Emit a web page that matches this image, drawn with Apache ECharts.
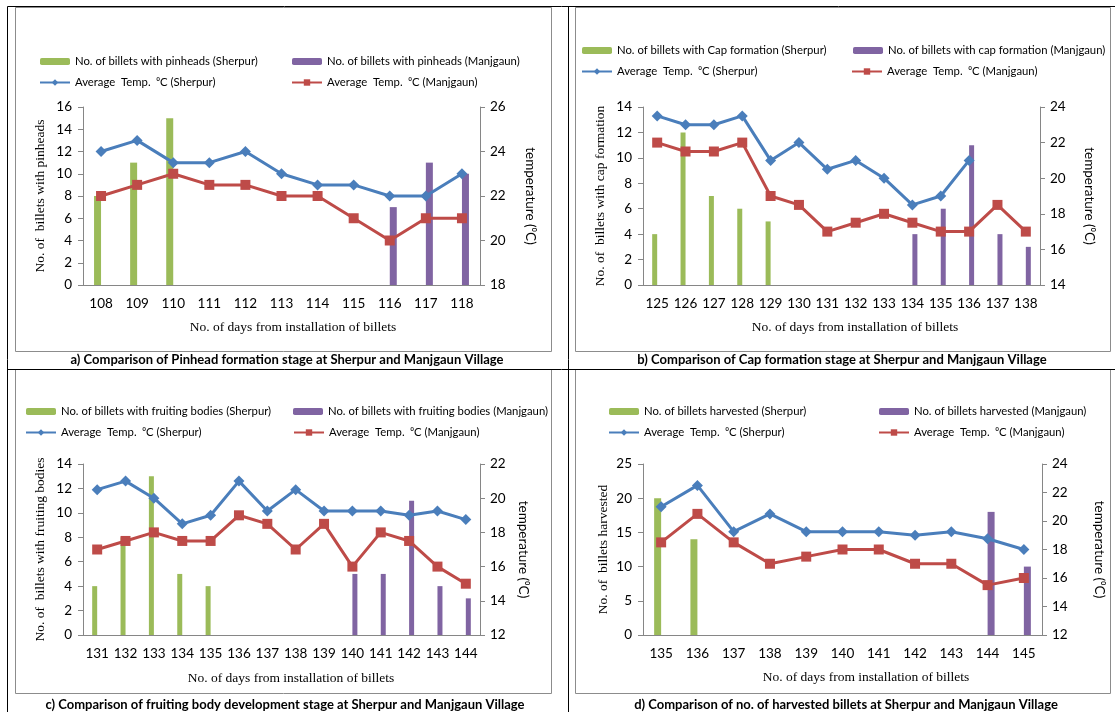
<!DOCTYPE html>
<html><head><meta charset="utf-8">
<script src="https://cdn.jsdelivr.net/npm/echarts@6/dist/echarts.min.js"></script>
<style>html,body{margin:0;padding:0;background:#fff}#c{width:1115px;height:712px}</style>
</head><body><div id="c"></div>
<script>
// ---- Panel a ----
const catsA = ['108','109','110','111','112','113','114','115','116','117','118'];
const barsSherA = [8,11,15,null,null,null,null,null,null,null,null];
const barsManjA = [null,null,null,null,null,null,null,null,7,11,10];
const tempSherA = [24,24.5,23.5,23.5,24,23,22.5,22.5,22,22,23];
const tempManjA = [22,22.5,23,22.5,22.5,22,22,21,20,21,21];
// ---- Panel b ----
const catsB = ['125','126','127','128','129','130','131','132','133','134','135','136','137','138'];
const barsSherB = [4,12,7,6,5,null,null,null,null,null,null,null,null,null];
const barsManjB = [null,null,null,null,null,null,null,null,null,4,6,11,4,3];
const tempSherB = [23.5,23,23,23.5,21,22,20.5,21,20,18.5,19,21,null,null];
const tempManjB = [22,21.5,21.5,22,19,18.5,17,17.5,18,17.5,17,17,18.5,17];
// ---- Panel c ----
const catsC = ['131','132','133','134','135','136','137','138','139','140','141','142','143','144'];
const barsSherC = [4,8,13,5,4,null,null,null,null,null,null,null,null,null];
const barsManjC = [null,null,null,null,null,null,null,null,null,5,5,11,4,3];
const tempSherC = [20.5,21,20,18.5,19,21,19.25,20.5,19.25,19.25,19.25,19,19.25,18.75];
const tempManjC = [17,17.5,18,17.5,17.5,19,18.5,17,18.5,16,18,17.5,16,15];
// ---- Panel d ----
const catsD = ['135','136','137','138','139','140','141','142','143','144','145'];
const barsSherD = [20,14,null,null,null,null,null,null,null,null,null];
const barsManjD = [null,null,null,null,null,null,null,null,null,18,10];
const tempSherD = [21,22.5,19.25,20.5,19.25,19.25,19.25,19,19.25,18.75,18];
const tempManjD = [18.5,20.5,18.5,17,17.5,18,18,17,17,15.5,16];

const barLabelsSher = ['No. of billets with pinheads (Sherpur)','No. of billets with Cap formation (Sherpur)','No. of billets with fruiting bodies (Sherpur)','No. of billets harvested (Sherpur)'];
const barLabelsManj = ['No. of billets with pinheads (Manjgaun)','No. of billets with cap formation (Manjgaun)','No. of billets with fruiting bodies (Manjgaun)','No. of billets harvested (Manjgaun)'];
const tempLabelSher = 'Average  Temp.  \u2070C (Sherpur)';
const tempLabelManj = 'Average  Temp.  \u2070C (Manjgaun)';
const leftNames = ['No. of  billets with pinheads','No. of  billets with cap formation','No. of  billets with fruiting bodies','No. of  billets harvested'];
const rightName = 'temperature (\u2070C)';
const xName = 'No. of days from installation of billets';
const titles = ['a) Comparison of Pinhead formation stage at Sherpur and Manjgaun Village',
 'b) Comparison of Cap formation stage at Sherpur and Manjgaun Village',
 'c) Comparison of fruiting body development stage at Sherpur and Manjgaun Village',
 'd) Comparison of no. of harvested billets at Sherpur and Manjgaun Village'];
const leftAxes = [[0,16,2],[0,14,2],[0,14,2],[0,25,5]];
const rightAxes = [[18,26,2],[14,24,2],[12,22,2],[12,24,2]];

const panels = [
 {cats:catsA, bs:barsSherA, bm:barsManjA, ts:tempSherA, tm:tempManjA},
 {cats:catsB, bs:barsSherB, bm:barsManjB, ts:tempSherB, tm:tempManjB},
 {cats:catsC, bs:barsSherC, bm:barsManjC, ts:tempSherC, tm:tempManjC},
 {cats:catsD, bs:barsSherD, bm:barsManjD, ts:tempSherD, tm:tempManjD}
];

// layout (pixels)
const L = [
 {grid:{left:83,top:107,width:397,height:178}, barW:7, lgRows:[61.5,82.5], lgX:[40,292,39,291], lName:36, rName:43, xGap:35, xPad:23, title:[287,360]},
 {grid:{left:643,top:107,width:397,height:178}, barW:5, lgRows:[50.5,71.5], lgX:[582,853,581,851], lName:36, rName:42, xGap:35, xPad:27, title:[842,360]},
 {grid:{left:83,top:464,width:397,height:171}, barW:5, lgRows:[411.5,432.5], lgX:[26,293,25,293], lName:36, rName:36, xGap:36, xPad:19, title:[285,705]},
 {grid:{left:643,top:464,width:399,height:171}, barW:7, lgRows:[411.5,432.5], lgX:[609,879,608,878], lName:33, rName:50, xGap:35, xPad:47, title:[846,705]}
];

const SANS = 'Lato, "Open Sans", sans-serif';
const SERIF = '"Liberation Serif", "DejaVu Serif", serif';
const GREEN = '#9bbb59', PURPLE = '#8064a2', BLUE = '#4a7ebb', RED = '#be4b48', AX = '#868686';

const disp = {};
const grids = [], xAxes = [], yAxes = [], series = [], legends = [], graphics = [];
panels.forEach((p, i) => {
  const lay = L[i];
  grids.push(lay.grid);
  xAxes.push({type:'category', gridIndex:i, data:p.cats, boundaryGap:true,
    axisLine:{lineStyle:{color:AX}}, axisTick:{show:false},
    axisLabel:{color:'#000', fontFamily:SANS, fontSize:13.5, margin:12, interval:0},
    name:xName, nameLocation:'middle', nameGap:lay.xGap,
    nameTextStyle:{fontFamily:SERIF, fontSize:13.5, color:'#000', padding:[0,0,0,lay.xPad]}});
  const la = leftAxes[i], ra = rightAxes[i];
  yAxes.push({type:'value', gridIndex:i, position:'left', min:la[0], max:la[1], interval:la[2],
    splitLine:{show:false}, axisLine:{show:true, lineStyle:{color:AX}}, axisTick:{show:true, length:5, lineStyle:{color:AX}},
    axisLabel:{color:'#000', fontFamily:SANS, fontSize:13.5, margin:11},
    name:leftNames[i], nameLocation:'middle', nameGap:lay.lName,
    nameTextStyle:{fontFamily:SERIF, fontSize:13.5, color:'#000'}});
  yAxes.push({type:'value', gridIndex:i, position:'right', min:ra[0], max:ra[1], interval:ra[2],
    splitLine:{show:false}, axisLine:{show:true, lineStyle:{color:AX}}, axisTick:{show:true, length:5, lineStyle:{color:AX}},
    axisLabel:{color:'#000', fontFamily:SANS, fontSize:13.5, margin:10},
    name:rightName, nameLocation:'middle', nameGap:lay.rName, nameRotate:-90,
    nameTextStyle:{fontFamily:SANS, fontSize:13.5, color:'#000'}});
  const ids = ['bs'+i,'bm'+i,'ts'+i,'tm'+i];
  disp[ids[0]] = barLabelsSher[i]; disp[ids[1]] = barLabelsManj[i];
  disp[ids[2]] = tempLabelSher; disp[ids[3]] = tempLabelManj;
  series.push({name:ids[0], type:'bar', xAxisIndex:i, yAxisIndex:2*i, data:p.bs, barWidth:lay.barW, barGap:'0%', itemStyle:{color:GREEN}, z:2});
  series.push({name:ids[1], type:'bar', xAxisIndex:i, yAxisIndex:2*i, data:p.bm, barWidth:lay.barW, barGap:'0%', itemStyle:{color:PURPLE}, z:2});
  series.push({name:ids[2], type:'line', xAxisIndex:i, yAxisIndex:2*i+1, data:p.ts, connectNulls:false,
    lineStyle:{color:BLUE, width:3}, itemStyle:{color:BLUE}, symbol:'diamond', symbolSize:11, z:4});
  series.push({name:ids[3], type:'line', xAxisIndex:i, yAxisIndex:2*i+1, data:p.tm,
    lineStyle:{color:RED, width:3}, itemStyle:{color:RED}, symbol:'rect', symbolSize:10, z:3});
  const rows = [lay.lgRows[0], lay.lgRows[0], lay.lgRows[1], lay.lgRows[1]];
  ids.forEach((id, k) => {
    legends.push({data:[id], left:lay.lgX[k], top:rows[k]-7, padding:0, itemGap:0,
      itemWidth:30, itemHeight:k<2?7:8, selectedMode:false, formatter:n=>disp[n],
      textStyle:{fontFamily:SANS, fontSize:11.3, color:'#000', lineHeight:14}});
  });
  graphics.push({type:'text', style:{text:titles[i], fontFamily:SANS, fontWeight:'bold', fontSize:13, fill:'#000', textAlign:'center', textVerticalAlign:'middle', x:lay.title[0], y:lay.title[1]}});
});

// table & chart-area borders
const lines = [[7,6,1115,6],[7,6,7,712],[568,6,568,712],[7,369,1115,369]];
lines.forEach(l => graphics.push({type:'line', shape:{x1:l[0]+0.5,y1:l[1]+0.5,x2:l[2]+0.5,y2:l[3]+0.5}, style:{stroke:'#000', lineWidth:1}, z:0}));
const boxes = [[15,7,551,351],[575,7,1110,351],[15,369,551,693],[575,369,1110,693]];
boxes.forEach(b => graphics.push({type:'rect', shape:{x:b[0]+0.5,y:b[1]+0.5,width:b[2]-b[0],height:b[3]-b[1]}, style:{fill:'#fff', stroke:'#8c8c8c', lineWidth:1}, z:-1}));

const chart = echarts.init(document.getElementById('c'), null, {renderer:'canvas'});
chart.setOption({animation:false, backgroundColor:'#fff', grid:grids, xAxis:xAxes, yAxis:yAxes, series, legend:legends, graphic:{elements:graphics}});
</script></body></html>
